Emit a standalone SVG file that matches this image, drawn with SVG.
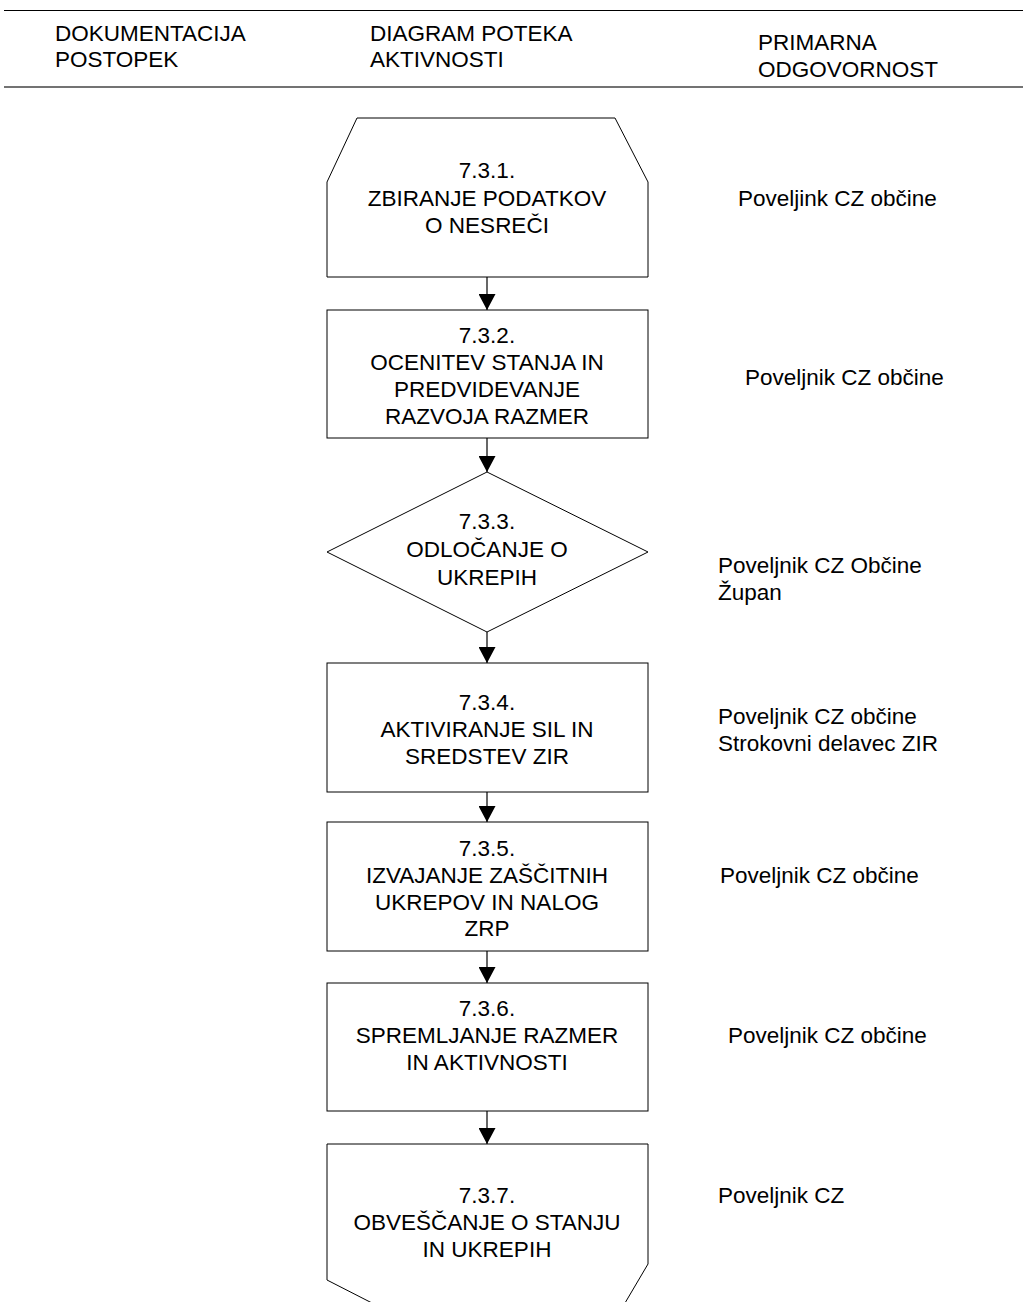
<svg xmlns="http://www.w3.org/2000/svg" width="1023" height="1302" viewBox="0 0 1023 1302">
<style>
text{font-family:"Liberation Sans",Arial,sans-serif;fill:#000}
.h{font-size:22.5px}
.n{font-size:22.5px;text-anchor:middle}
.r{font-size:22.5px}
.shape{fill:#fff;stroke:#000;stroke-width:1}
.conn{stroke:#000;stroke-width:1.2;fill:none}
</style>
<defs>
<marker id="arr" markerWidth="16" markerHeight="17" refX="16" refY="8.5" orient="auto" markerUnits="userSpaceOnUse">
<path d="M0,0 L16,8.5 L0,17 Z" fill="#000"/>
</marker>
</defs>
<rect width="1023" height="1302" fill="#fff"/>
<g id="header">
<line x1="4" y1="10.5" x2="1023" y2="10.5" stroke="#000" stroke-width="1"/>
<line x1="4" y1="87" x2="1023" y2="87" stroke="#444" stroke-width="1.6"/>
<text class="h" x="55" y="41">DOKUMENTACIJA</text>
<text class="h" x="55" y="67">POSTOPEK</text>
<text class="h" x="370" y="41">DIAGRAM POTEKA</text>
<text class="h" x="370" y="67">AKTIVNOSTI</text>
<text class="h" x="758" y="50">PRIMARNA</text>
<text class="h" x="758" y="77">ODGOVORNOST</text>
</g>
<g id="connectors">
<line class="conn" x1="487" y1="277" x2="487" y2="310" marker-end="url(#arr)"/>
<line class="conn" x1="487" y1="438" x2="487" y2="472" marker-end="url(#arr)"/>
<line class="conn" x1="487" y1="632" x2="487" y2="663" marker-end="url(#arr)"/>
<line class="conn" x1="487" y1="792" x2="487" y2="822" marker-end="url(#arr)"/>
<line class="conn" x1="487" y1="951" x2="487" y2="983" marker-end="url(#arr)"/>
<line class="conn" x1="487" y1="1111" x2="487" y2="1144" marker-end="url(#arr)"/>
</g>
<g id="n1">
<path class="shape" d="M357,118 L615,118 L648,182 L648,277 L327,277 L327,182 Z"/>
<text class="n" x="487" y="178">7.3.1.</text>
<text class="n" x="487" y="206">ZBIRANJE PODATKOV</text>
<text class="n" x="487" y="233">O NESREČI</text>
</g>
<g id="n2">
<rect class="shape" x="327" y="310" width="321" height="128"/>
<text class="n" x="487" y="343">7.3.2.</text>
<text class="n" x="487" y="370">OCENITEV STANJA IN</text>
<text class="n" x="487" y="397">PREDVIDEVANJE</text>
<text class="n" x="487" y="424">RAZVOJA RAZMER</text>
</g>
<g id="n3">
<path class="shape" d="M487,472 L648,552 L487,632 L327,552 Z"/>
<text class="n" x="487" y="529">7.3.3.</text>
<text class="n" x="487" y="557">ODLOČANJE O</text>
<text class="n" x="487" y="585">UKREPIH</text>
</g>
<g id="n4">
<rect class="shape" x="327" y="663" width="321" height="129"/>
<text class="n" x="487" y="710">7.3.4.</text>
<text class="n" x="487" y="737">AKTIVIRANJE SIL IN</text>
<text class="n" x="487" y="764">SREDSTEV ZIR</text>
</g>
<g id="n5">
<rect class="shape" x="327" y="822" width="321" height="129"/>
<text class="n" x="487" y="856">7.3.5.</text>
<text class="n" x="487" y="883">IZVAJANJE ZAŠČITNIH</text>
<text class="n" x="487" y="910">UKREPOV IN NALOG</text>
<text class="n" x="487" y="936">ZRP</text>
</g>
<g id="n6">
<rect class="shape" x="327" y="983" width="321" height="128"/>
<text class="n" x="487" y="1016">7.3.6.</text>
<text class="n" x="487" y="1043">SPREMLJANJE RAZMER</text>
<text class="n" x="487" y="1070">IN AKTIVNOSTI</text>
</g>
<g id="n7">
<path class="shape" d="M372,1303 L327,1280 L327,1144 L648,1144 L648,1264 L625,1303"/>
<text class="n" x="487" y="1203">7.3.7.</text>
<text class="n" x="487" y="1230">OBVEŠČANJE O STANJU</text>
<text class="n" x="487" y="1257">IN UKREPIH</text>
</g>
<g id="responsibility">
<text class="r" x="738" y="206">Poveljink CZ občine</text>
<text class="r" x="745" y="385">Poveljnik CZ občine</text>
<text class="r" x="718" y="573">Poveljnik CZ Občine</text>
<text class="r" x="718" y="600">Župan</text>
<text class="r" x="718" y="724">Poveljnik CZ občine</text>
<text class="r" x="718" y="751">Strokovni delavec ZIR</text>
<text class="r" x="720" y="883">Poveljnik CZ občine</text>
<text class="r" x="728" y="1043">Poveljnik CZ občine</text>
<text class="r" x="718" y="1203">Poveljnik CZ</text>
</g>
</svg>
